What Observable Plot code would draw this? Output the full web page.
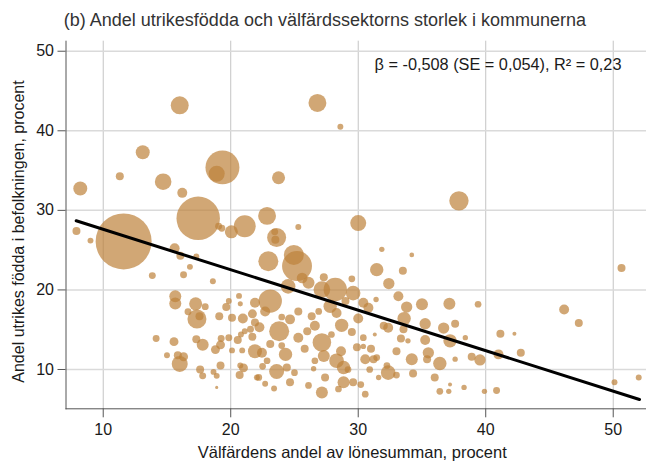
<!DOCTYPE html>
<html><head><meta charset="utf-8">
<script src="https://cdn.jsdelivr.net/npm/d3@7"></script>
<script src="https://cdn.jsdelivr.net/npm/@observablehq/plot@0.6"></script>
<style>
body{margin:0;background:#fff}
#chart{width:646px;height:462px}
</style>
</head><body><div id="chart"></div>
<script>
// Välfärdens andel av lönesumman, procent (x)
const welfareShare = [
16.0,26.8,28.6,13.1,11.3,14.7,8.2,16.2,19.35,18.9,23.75,17.45,11.6,7.9,9.0,22.85,21.1,20.05,19.05,19.3,
23.6,23.45,23.5,25.3,30.0,37.9,31.85,34.2,
15.6,16.05,17.3,16.8,16.3,13.85,18.6,15.65,15.65,17.25,18.0,16.65,17.35,17.55,19.1,19.85,19.65,20.65,20.75,20.1,20.95,
14.15,15.55,17.3,17.8,19.25,19.85,19.2,18.8,20.55,20.8,20.1,20.9,21.55,21.7,21.9,15.0,15.85,16.3,16.0,17.6,17.8,
18.65,18.9,19.2,18.9,20.75,21.0,20.7,22.05,21.1,21.9,21.9,
24.95,25.2,22.95,25.6,27.3,29.5,26.1,24.5,23.1,22.7,28.2,27.15,29.6,27.8,30.4,30.8,25.3,24.65,26.35,26.6,
28.3,28.7,30.0,29.5,30.4,22.25,23.8,25.3,27.15,27.3,24.3,23.1,22.45,22.85,23.6,24.4,28.3,28.65,28.85,27.4,
28.85,26.6,26.5,24.65,26.1,27.15,28.45,29.6,30.2,30.55,30.55,30.4,22.7,22.2,
31.45,33.5,32.4,33.15,31.4,33.8,35.0,37.15,39.4,33.6,32.0,32.35,33.55,35.25,36.7,37.6,37.2,35.25,33.35,33.9,
31.3,38.4,35.5,34.2,35.4,33.0,31.45,32.25,32.35,33.0,34.3,36.4,36.0,37.6,38.9,39.55,31.6,36.4,37.1,37.2,
38.3,39.9,40.85,41.15,41.0,
46.15,47.3,50.65,42.25,42.75,50.1,52.0,31.2,
30.9,31.0,22.5,23.4,25.8,26.0,24.0,25.0,29.2,29.9,27.9,26.9,29.0,24.0,21.7
];
// Andel utrikes födda i befolkningen, procent (y)
const foreignBorn = [
43.2,43.5,40.5,37.3,34.3,33.6,32.75,32.2,35.4,34.6,34.1,29.0,26.1,27.4,26.2,29.3,28.0,27.3,28.0,27.75,
26.6,27.3,26.3,27.9,28.4,31.2,25.1,24.4,
25.25,24.3,24.2,22.9,21.9,21.8,21.1,19.2,18.3,18.25,17.9,17.25,16.35,16.7,16.7,18.6,17.85,19.25,18.25,16.5,16.4,
13.9,13.5,13.8,13.1,13.9,14.0,13.1,12.5,13.7,14.4,12.4,12.4,15.05,14.1,12.3,11.8,11.8,11.6,10.7,10.0,9.2,
9.7,9.2,10.5,7.75,10.5,10.2,9.3,9.0,14.8,18.4,15.9,
24.4,23.0,23.6,21.5,21.6,21.4,20.9,20.45,18.6,17.3,20.05,20.05,19.6,17.95,18.4,17.75,17.3,16.3,16.7,15.5,
17.1,15.55,16.4,14.7,14.0,15.3,14.8,14.0,13.4,11.7,11.9,13.2,12.1,11.1,9.75,10.25,11.1,12.3,10.25,9.0,
8.4,11.1,10.1,8.4,8.0,7.1,7.55,8.4,8.1,6.9,11.3,12.9,8.2,9.0,
22.55,22.4,20.8,19.2,18.8,17.85,18.2,18.25,18.2,16.4,15.5,15.25,15.05,15.75,15.2,15.75,13.6,13.7,13.9,13.6,
14.4,14.0,12.1,11.3,11.3,12.3,11.5,10.5,9.6,9.3,9.5,10.75,9.0,11.3,11.6,11.2,9.0,7.25,7.25,8.1,
7.75,7.25,7.35,14.5,11.9,
17.55,15.85,22.75,14.5,12.1,8.4,9.0,11.3,
10.0,12.6,10.4,7.6,12.6,14.8,13.0,9.6,10.0,12.8,14.4,17.3,18.6,16.6,17.0
];
// Befolkning, tusental (bubblans storlek)
const population = [
101,100,11,61,20,86,61,31,360,80,53,590,980,20,11,100,150,53,15,15,
113,15,20,11,80,117,9,7,
31,20,11,11,15,15,11,45,45,53,15,15,113,20,20,11,20,11,8,20,31,
15,25,20,45,15,15,25,25,20,11,11,11,15,20,61,11,20,25,80,20,15,
11,11,20,3,11,25,20,11,11,31,20,
125,280,125,36,20,14,45,67,170,31,170,87,67,56,31,31,20,31,20,31,
31,56,31,20,14,31,125,31,108,45,56,20,31,14,70,20,67,31,56,20,
45,14,9,20,14,45,14,20,14,14,31,9,11,14,
56,20,40,31,9,40,45,45,14,56,20,31,20,40,40,20,56,31,20,9,
5,9,40,45,20,20,14,14,67,14,20,56,20,9,20,40,9,14,9,5,
9,9,15,20,31,
31,20,20,5,20,11,11,20,
14,20,14,11,20,20,14,14,14,20,14,14,20,14,25
];
const regressionX = [7.88, 52.06];
const regressionY = [28.7, 6.23];
const xTicks = [10, 20, 30, 40, 50];
const yTicks = [10, 20, 30, 40, 50];
const titleText = "(b) Andel utrikesfödda och välfärdssektorns storlek i kommunerna";
const annotationText = "β = -0,508 (SE = 0,054), R² = 0,23";
const xLabel = "Välfärdens andel av lönesumman, procent";
const yLabel = "Andel utrikes födda i befolkningen, procent";

const municipalities = welfareShare.map((x, i) => ({x, y: foreignBorn[i], pop: population[i]}))
  .sort((a, b) => b.pop - a.pop);
const regression = regressionX.map((x, i) => ({x, y: regressionY[i]}));

const font = "'Liberation Sans', Arial, sans-serif";
const chart = Plot.plot({
  width: 646, height: 462,
  marginLeft: 65.5, marginRight: 0, marginTop: 40.7, marginBottom: 53.7,
  style: {fontFamily: font, fontSize: "16px", color: "#1a1a1a", background: "white", overflow: "visible"},
  x: {domain: [7.08, 52.61]},
  y: {domain: [5.06, 51.26]},
  r: {domain: [0, 980], range: [0, 28]},
  marks: [
    Plot.gridX(xTicks, {stroke: "#c4c4c4", strokeOpacity: 1, strokeWidth: 1}),
    Plot.gridY(yTicks, {stroke: "#dadada", strokeOpacity: 1, strokeWidth: 1.5}),
    Plot.dot(municipalities, {x: "x", y: "y", r: "pop", fill: "#be813a", fillOpacity: 0.7, stroke: "none"}),
    Plot.line(regression, {x: "x", y: "y", stroke: "black", strokeWidth: 3}),
    Plot.frame({anchor: "left", stroke: "#555", strokeOpacity: 1}),
    Plot.frame({anchor: "bottom", stroke: "#555", strokeOpacity: 1}),
    Plot.axisX(xTicks, {tickSize: 9, tickPadding: 6, stroke: "#555", label: null, fontSize: 16, tickFormat: d => String(d)}),
    Plot.axisY(yTicks, {tickSize: 8, tickPadding: 4, stroke: "#555", label: null, fontSize: 16, tickFormat: d => String(d)}),
    Plot.text([xLabel], {frameAnchor: "bottom", textAnchor: "middle", dx: -4, dy: 44.2, lineAnchor: "middle", fontSize: 16.5, fill: "#1a1a1a"}),
    Plot.text([yLabel], {frameAnchor: "left", textAnchor: "middle", rotate: -90, dx: -47.5, dy: 6.5, lineAnchor: "middle", fontSize: 16, fill: "#1a1a1a"}),
    Plot.text([annotationText], {frameAnchor: "top-right", textAnchor: "end", dx: -25, dy: 23.4, lineAnchor: "middle", fontSize: 16.3, fill: "#1a1a1a"}),
    Plot.text([titleText], {frameAnchor: "top-left", textAnchor: "start", dx: -2.2, dy: -15.7, lineAnchor: "bottom", fontSize: 18, fill: "#333"})
  ]
});
document.getElementById("chart").appendChild(chart);
</script>
</body></html>
